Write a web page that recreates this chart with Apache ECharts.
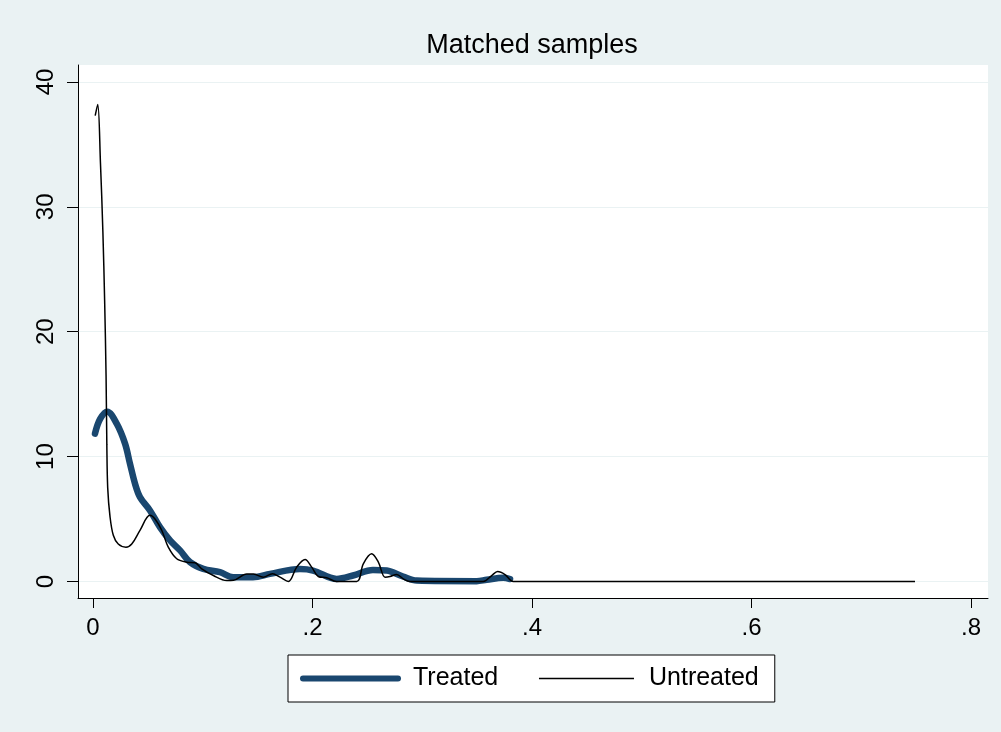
<!DOCTYPE html>
<html>
<head>
<meta charset="utf-8">
<script src="https://cdn.jsdelivr.net/npm/echarts@6/dist/echarts.min.js"></script>
<style>
html,body{margin:0;padding:0;background:#eaf2f3;}
#chart{width:1001px;height:732px;}
</style>
</head>
<body>
<div id="chart"></div>
<script>
var titleText = 'Matched samples';
var seriesNames = ['Treated', 'Untreated'];
var xTicks = [0, 0.2, 0.4, 0.6, 0.8];
var yTicks = [0, 10, 20, 30, 40];

var treated = [
  [0.0018, 11.84], [0.0064, 13.0], [0.0130, 13.6], [0.0216, 12.64], [0.0292, 11.04],
  [0.0337, 9.43], [0.0383, 7.83], [0.0428, 6.76], [0.0519, 5.69], [0.0610, 4.35],
  [0.0702, 3.29], [0.0793, 2.49], [0.0884, 1.55], [0.1005, 1.01], [0.1157, 0.75],
  [0.1278, 0.35], [0.1458, 0.35], [0.1613, 0.61], [0.1886, 1.0], [0.2005, 0.88],
  [0.2220, 0.21], [0.2369, 0.48], [0.2551, 0.93], [0.2676, 0.88], [0.2825, 0.4],
  [0.2949, 0.08], [0.3496, 0.03], [0.3587, 0.14], [0.3738, 0.3], [0.3800, 0.2]
];

var untreated = [
  [0.0020, 37.3], [0.0043, 38.2], [0.0068, 33.5], [0.0090, 28.0], [0.0106, 22.5],
  [0.0119, 16.5], [0.0126, 11.0], [0.0134, 7.5], [0.0155, 5.2], [0.0185, 3.7],
  [0.0230, 3.0], [0.0300, 2.75], [0.0353, 3.0], [0.0428, 4.1], [0.0519, 5.3],
  [0.0565, 5.0], [0.0626, 4.1], [0.0686, 2.75], [0.0763, 1.82], [0.0854, 1.55],
  [0.0930, 1.5], [0.0991, 1.02], [0.1097, 0.48], [0.1219, 0.08], [0.1280, 0.1],
  [0.1401, 0.61], [0.1462, 0.6], [0.1553, 0.35], [0.1635, 0.62], [0.1704, 0.35],
  [0.1780, 0.0], [0.1856, 1.15], [0.1932, 1.76], [0.1993, 1.15], [0.2053, 0.4],
  [0.2129, 0.3], [0.2220, 0.0], [0.2403, 0.0], [0.2463, 1.42], [0.2539, 2.22],
  [0.2600, 1.55], [0.2661, 0.35], [0.2706, 0.4], [0.2767, 0.56], [0.2827, 0.21],
  [0.2888, 0.0], [0.3556, 0.0], [0.3633, 0.48], [0.3687, 0.8], [0.3754, 0.56],
  [0.3830, 0.0], [0.7490, 0.0]
];

var FONT = "'Liberation Sans', Arial, sans-serif";
function fmt(v) {
  var s = String(Math.round(v * 100) / 100);
  return s.replace(/^0\./, '.');
}

var chart = echarts.init(document.getElementById('chart'), null, {renderer: 'canvas'});
chart.setOption({
  backgroundColor: '#eaf2f3',
  animation: false,
  title: {
    text: titleText,
    left: 532,
    top: 32,
    textAlign: 'center',
    padding: 0,
    textStyle: {fontFamily: FONT, fontSize: 27, fontWeight: 'normal', color: '#000'}
  },
  grid: {
    left: 78, right: 13, top: 65, bottom: 134,
    show: true, backgroundColor: '#ffffff', borderWidth: 0
  },
  legend: {
    left: 288, top: 655,
    orient: 'horizontal',
    padding: [11, 16, 11, 12],
    backgroundColor: '#ffffff',
    borderColor: '#000000',
    borderWidth: 1,
    borderRadius: 0,
    itemWidth: 95,
    itemHeight: 24,
    itemGap: 40,
    textStyle: {fontFamily: FONT, fontSize: 25, color: '#000', padding: [0, 0, 0, 10]},
    data: [
      {name: seriesNames[0], itemStyle: {color: 'rgba(0,0,0,0)', borderWidth: 0}, lineStyle: {width: 6, color: '#1a476f'}},
      {name: seriesNames[1], itemStyle: {color: 'rgba(0,0,0,0)', borderWidth: 0}, lineStyle: {width: 1.5, color: '#000'}}
    ]
  },
  xAxis: {
    type: 'value',
    min: -0.01367,
    max: 0.8155,
    axisLine: {show: true, onZero: false, lineStyle: {color: '#000', width: 1}},
    axisTick: {show: true, length: 10, customValues: xTicks, lineStyle: {color: '#000', width: 1}},
    axisLabel: {
      customValues: xTicks, margin: 18,
      fontFamily: FONT, fontSize: 24, color: '#000',
      formatter: fmt
    },
    splitLine: {show: false}
  },
  yAxis: {
    type: 'value',
    min: -1.321,
    max: 41.36,
    axisLine: {show: true, onZero: false, lineStyle: {color: '#000', width: 1}},
    axisTick: {show: true, length: 11, customValues: yTicks, lineStyle: {color: '#000', width: 1}},
    axisLabel: {
      customValues: yTicks, margin: 20, rotate: 90,
      fontFamily: FONT, fontSize: 24, color: '#000',
      formatter: fmt
    },
    splitLine: {show: true, lineStyle: {color: '#eaf2f3', width: 1}}
  },
  series: [
    {
      name: seriesNames[0], type: 'line', data: treated,
      symbol: 'none', smooth: 0.35, z: 3,
      lineStyle: {color: '#1a476f', width: 6.5, cap: 'round', join: 'round'},
      itemStyle: {color: '#1a476f'}
    },
    {
      name: seriesNames[1], type: 'line', data: untreated,
      symbol: 'none', smooth: 0.35, z: 4,
      lineStyle: {color: '#000000', width: 1.5},
      itemStyle: {color: '#000000'}
    }
  ]
});
</script>
</body>
</html>
